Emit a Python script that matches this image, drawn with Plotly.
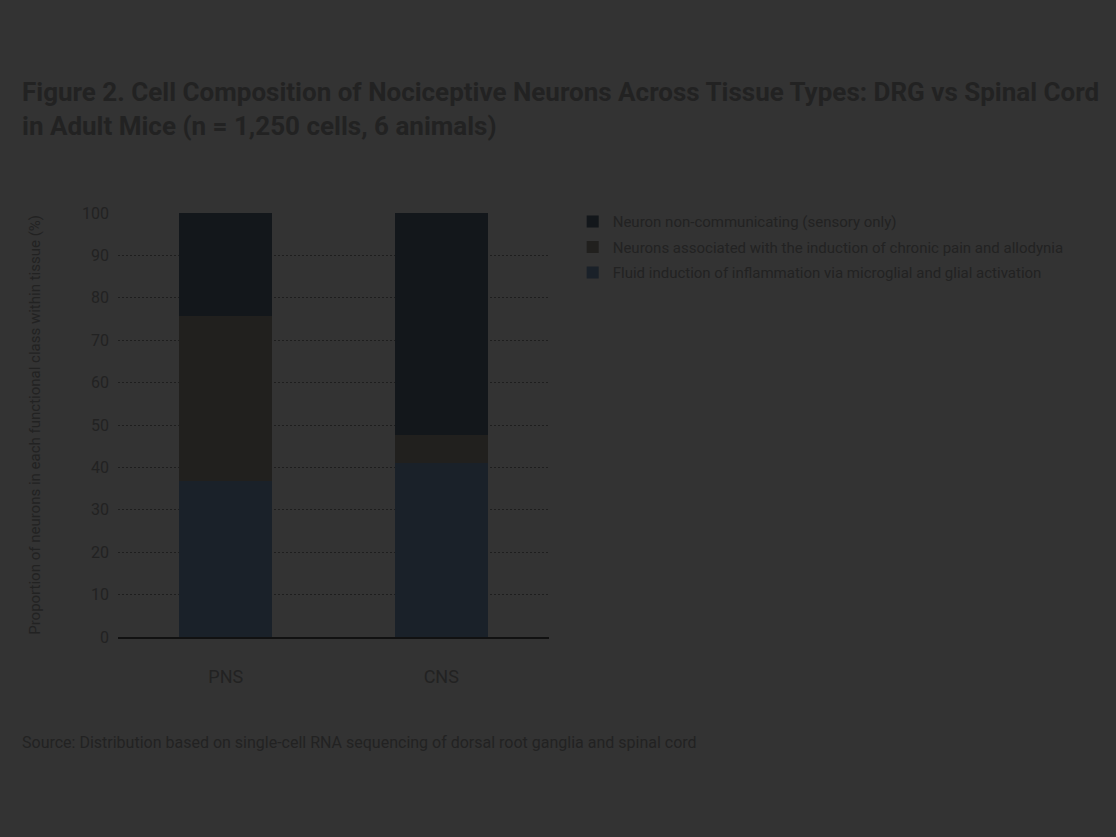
import plotly.graph_objects as go

categories = ["PNS", "CNS"]
series_names = [
    "Neuron non-communicating (sensory only)",
    "Neurons associated with the induction of chronic pain and allodynia",
    "Fluid induction of inflammation via microglial and glial activation",
]
top_vals = [24.3, 52.4]
mid_vals = [39.0, 6.5]
bot_vals = [36.7, 41.1]
y_ticks = [0, 10, 20, 30, 40, 50, 60, 70, 80, 90, 100]

colors = ["#13171b", "#21201e", "#1a2129"]
txt = "#222222"
font_family = "Roboto, Arial, sans-serif"

fig = go.Figure()
fig.add_trace(go.Bar(x=categories, y=bot_vals, name=series_names[2], legendgroup="c", legendrank=3,
                     marker=dict(color=colors[2], line=dict(width=0)), width=0.43))
fig.add_trace(go.Bar(x=categories, y=mid_vals, name=series_names[1], legendgroup="b", legendrank=2,
                     marker=dict(color=colors[1], line=dict(width=0)), width=0.43))
fig.add_trace(go.Bar(x=categories, y=top_vals, name=series_names[0], legendgroup="a", legendrank=1,
                     marker=dict(color=colors[0], line=dict(width=0)), width=0.43))

fig.update_layout(
    width=1116, height=837,
    barmode="stack",
    paper_bgcolor="#333333", plot_bgcolor="#333333",
    font=dict(family=font_family, color=txt, size=15),
    margin=dict(l=118, r=567, t=213, b=200, autoexpand=False),
    title=dict(
        text="Figure 2. Cell Composition of Nociceptive Neurons Across Tissue Types: DRG vs Spinal Cord<br>in Adult Mice (n = 1,250 cells, 6 animals)",
        x=22/1116, xref="container", xanchor="left",
        y=1-101/837, yref="container", yanchor="top",
        font=dict(size=26, color=txt, family=font_family, weight="bold"),
    ),
    legend=dict(
        x=1.055, xanchor="left", y=1.018, yanchor="top",
        traceorder="grouped",
        font=dict(size=15, color=txt),
        bgcolor="rgba(0,0,0,0)",
        tracegroupgap=3,
    ),
    showlegend=True,
)

fig.update_xaxes(
    showgrid=False, showline=True, linecolor="#111111", linewidth=2,
    ticks="", tickfont=dict(size=18, color=txt), ticklabelstandoff=22,
    zeroline=False,
)
fig.update_yaxes(
    range=[0, 100], tickvals=y_ticks, showgrid=True, gridcolor="#1e1e1e",
    griddash="2px,2px", gridwidth=1, zeroline=False, showline=False,
    tickfont=dict(size=16, color=txt), ticks="", ticklabelstandoff=8,
)

fig.add_annotation(
    text="Proportion of neurons in each functional class within tissue (%)",
    xref="paper", yref="paper", x=-0.193, y=0.5,
    textangle=-90, showarrow=False, font=dict(size=15, color=txt),
    xanchor="center", yanchor="middle",
)
fig.add_annotation(
    text="Source: Distribution based on single-cell RNA sequencing of dorsal root ganglia and spinal cord",
    xref="paper", yref="paper", x=(20-118)/431, y=-0.248,
    xanchor="left", yanchor="middle", showarrow=False,
    font=dict(size=16, color=txt), align="left",
)

fig.write_html("out.html")
